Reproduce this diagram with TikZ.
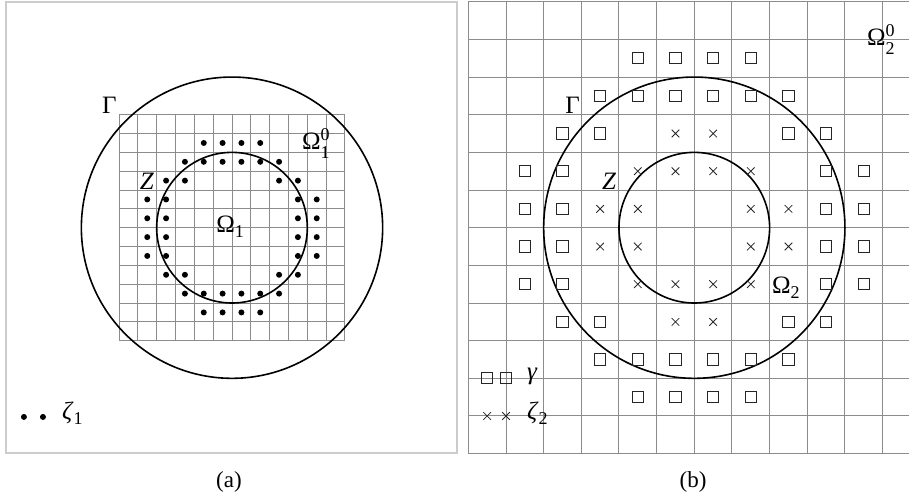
\documentclass[tikz,border=0pt]{standalone}
\usepackage{fontspec}
\setmainfont{Liberation Serif}
\newcommand{\idx}[2]{\raisebox{-4.5pt}{\fontsize{9}{9}\selectfont\shortstack[l]{#1\\#2}}}
\newcommand{\low}[1]{\raisebox{-2.5pt}{\fontsize{9}{9}\selectfont #1}}

\begin{document}
\begin{tikzpicture}[
    gridline/.style={black!45,line width=0.5pt},
    ring/.style={black,line width=0.8pt},
    lbl/.style={inner sep=0pt,anchor=base west,font=\fontsize{12.5}{14}\selectfont},
    captxt/.style={inner sep=0pt,anchor=base,font=\fontsize{11.5}{13}\selectfont},
    sq/.style={black!85,line width=0.5pt},
    cr/.style={black!85,line width=0.4pt}]
  \useasboundingbox (0,0) rectangle (454.5pt,248.5pt);

  % (a): fine grid, dots
  \draw[black!20,line width=0.6pt] (3pt,22pt) rectangle (228.5pt,247.5pt);
  \begin{scope}[shift={(116pt,134.65pt)},x=9.415pt,y=9.415pt]
    \draw[gridline,step=1] (-6,-6) grid (6,6);
    \draw[ring] (0,0) circle (8) (0,0) circle (4);
    \foreach \sx in {1,-1}
      \foreach \sy in {1,-1}
        \foreach \x/\y in {0.5/4.5,1.5/4.5,0.5/3.5,1.5/3.5,2.5/3.5,2.5/2.5,3.5/2.5,
                           3.5/1.5,4.5/1.5,3.5/0.5,4.5/0.5}
          \fill (\sx*\x,\sy*\y) circle (1.5pt);
    \fill (-11.05,-10.05) circle (1.5pt) (-10.04,-10.05) circle (1.5pt);
  \end{scope}

  % (b): coarse grid, squares and crosses
  \begin{scope}[shift={(347.15pt,134.65pt)},x=18.83pt,y=18.83pt]
    \clip (-6.1,-6.1) rectangle (5.70,6.1);
    \draw[gridline,step=1] (-6,-6) grid (6,6);
    \draw[ring] (0,0) circle (4) (0,0) circle (2);
    \foreach \sx in {1,-1}
      \foreach \sy in {1,-1} {
        \foreach \x/\y in {0.5/4.5,1.5/4.5,0.5/3.5,1.5/3.5,2.5/3.5,2.5/2.5,3.5/2.5,
                           3.5/1.5,4.5/1.5,3.5/0.5,4.5/0.5}
          \draw[sq] (\sx*\x,\sy*\y) ++(-2.8pt,-2.8pt) rectangle ++(5.6pt,5.6pt);
        \foreach \x/\y in {0.5/2.5,0.5/1.5,1.5/1.5,1.5/0.5,2.5/0.5}
          \draw[cr] (\sx*\x,\sy*\y) ++(-1.9pt,-1.9pt) -- ++(3.8pt,3.8pt)
                    ++(-3.8pt,0) -- ++(3.8pt,-3.8pt);
      }
    \foreach \x in {-5.5,-5} {
      \draw[sq] (\x,-4) ++(-2.8pt,-2.8pt) rectangle ++(5.6pt,5.6pt);
      \draw[cr] (\x,-5) ++(-1.9pt,-1.9pt) -- ++(3.8pt,3.8pt)
                ++(-3.8pt,0) -- ++(3.8pt,-3.8pt);
    }
  \end{scope}

  \path
  (50.8pt,191.8pt) node[lbl] (gammaA) {Γ}
  (150.8pt,173.5pt) node[lbl] (omegaA0) {Ω\idx{0}{1}}
  (69.7pt,153.5pt) node[lbl] (zA) {\textit{Z}}
  (108pt,132pt) node[lbl] (omegaA) {Ω\low{1}}
  (30.8pt,38.5pt) node[lbl] (zetaA) {\textit{ζ}\low{1}}
  (282.5pt,191.8pt) node[lbl] (gammaB) {Γ}
  (433.3pt,225.5pt) node[lbl] (omegaB0) {Ω\idx{0}{2}}
  (300.8pt,153.5pt) node[lbl] (zB) {\textit{Z}}
  (385.8pt,101.8pt) node[lbl] (omegaB) {Ω\low{2}}
  (263.3pt,58.5pt) node[lbl] (gammaLeg) {\textit{γ}}
  (263.3pt,38.5pt) node[lbl] (zetaB) {\textit{ζ}\low{2}}
  (114.5pt,4.5pt) node[captxt] (capA) {(a)}
  (346.5pt,4.5pt) node[captxt] (capB) {(b)};
\end{tikzpicture}
\end{document}
